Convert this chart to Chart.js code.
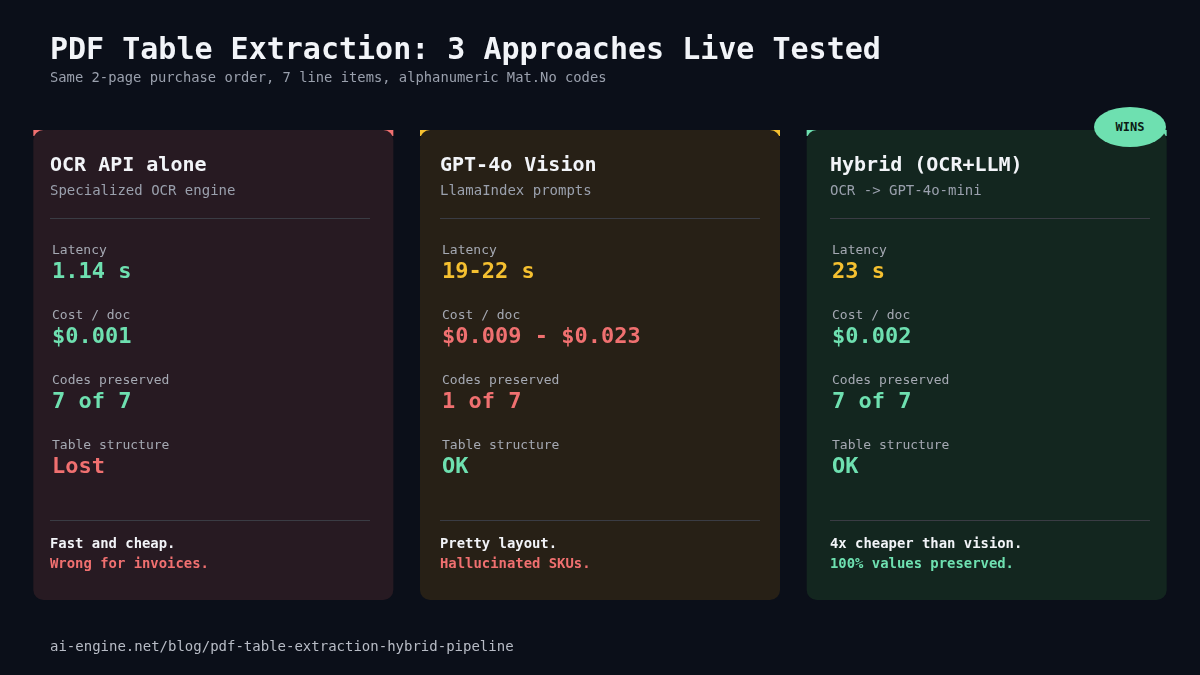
<!DOCTYPE html>
<html><head><meta charset="utf-8">
<script src="https://cdn.jsdelivr.net/npm/chart.js@4"></script>
<style>
body{margin:0;background:#0b0f19;font-family:"DejaVu Sans Mono",monospace;}
#wrap{position:relative;width:1200px;height:675px;}
canvas{position:absolute;left:0;top:0;}
.t{position:absolute;white-space:nowrap;}
</style></head><body>
<div id="wrap"><canvas id="c" width="1200" height="675"></canvas></div>
<script>
// Data
const cards = ['OCR API alone', 'GPT-4o Vision', 'Hybrid (OCR+LLM)'];
const subtitles = ['Specialized OCR engine', 'LlamaIndex prompts', 'OCR -> GPT-4o-mini'];
const metrics = ['Latency', 'Cost / doc', 'Codes preserved', 'Table structure'];
const latency = ['1.14 s', '19-22 s', '23 s'];
const cost = ['$0.001', '$0.009 - $0.023', '$0.002'];
const codes = ['7 of 7', '1 of 7', '7 of 7'];
const structure = ['Lost', 'OK', 'OK'];
const verdictA = ['Fast and cheap.', 'Pretty layout.', '4x cheaper than vision.'];
const verdictB = ['Wrong for invoices.', 'Hallucinated SKUs.', '100% values preserved.'];
const cardLeft = [30, 420, 810];
const cardSpan = [130, 600];
const accentSpan = [130, 136];

const GREEN = '#6ee0b0', RED = '#f07070', YELLOW = '#f5c030';
const accent = [RED, YELLOW, GREEN];
const cardBg = ['#271a22', '#272016', '#13261f'];
const valueColors = [
  [GREEN, YELLOW, YELLOW],
  [GREEN, RED, GREEN],
  [GREEN, RED, GREEN],
  [RED, GREEN, GREEN]
];
const values = [latency, cost, codes, structure];

const catW = 1160 / 3;
new Chart(document.getElementById('c'), {
  type: 'bar',
  data: {
    labels: cards,
    datasets: [
      { data: cards.map(() => cardSpan), backgroundColor: cardBg, borderRadius: 10,
        borderSkipped: false, grouped: false, barPercentage: 360 / catW, categoryPercentage: 1 },
      { data: cards.map(() => accentSpan), backgroundColor: accent, borderRadius: 0,
        grouped: false, barPercentage: 360 / catW, categoryPercentage: 1 }
    ]
  },
  options: {
    responsive: false, animation: false,
    layout: { padding: { left: 20, right: 20, top: 0, bottom: 0 } },
    plugins: { legend: { display: false }, tooltip: { enabled: false } },
    scales: {
      x: { display: false },
      y: { min: 0, max: 675, reverse: true, display: false }
    }
  }
});

const wrap = document.getElementById('wrap');
function txt(s, x, y, size, color, weight) {
  const d = document.createElement('div');
  d.className = 't';
  d.textContent = s;
  d.style.cssText += `left:${x}px;top:${y - size * 0.8}px;font-size:${size}px;color:${color};font-weight:${weight || 'normal'};line-height:1`;
  wrap.appendChild(d);
}
function line(x, y, w) {
  const d = document.createElement('div');
  d.style.cssText = `position:absolute;left:${x}px;top:${y}px;width:${w}px;height:1px;background:#3a3c44`;
  wrap.appendChild(d);
}

txt('PDF Table Extraction: 3 Approaches Live Tested', 50, 58, 30, '#f2f4f8', 'bold');
txt('Same 2-page purchase order, 7 line items, alphanumeric Mat.No codes', 50, 82, 13.8, '#9aa0ad');
txt('ai-engine.net/blog/pdf-table-extraction-hybrid-pipeline', 50, 650, 14, '#b8bcc6');

cards.forEach((c, i) => {
  const x0 = cardLeft[i] + 20;
  txt(c, x0, 170, 20, '#f2f4f8', 'bold');
  txt(subtitles[i], x0, 194, 14, '#9aa0ad');
  line(x0, 218, 320);
  metrics.forEach((m, j) => {
    const y = 253 + j * 65;
    txt(m, x0 + 2, y, 13, '#a5a9b3');
    txt(values[j][i], x0 + 2, y + 25, 22, valueColors[j][i], 'bold');
  });
  line(x0, 520, 320);
  txt(verdictA[i], x0, 548, 13.9, '#f2f4f8', 'bold');
  txt(verdictB[i], x0, 568, 13.9, accent[i === 1 ? 0 : i], 'bold');
});

const badge = document.createElement('div');
badge.textContent = 'WINS';
badge.style.cssText = 'position:absolute;left:1094px;top:107px;width:72px;height:40px;border-radius:50%;background:#6ee0b0;color:#0b1a14;font-weight:bold;font-size:12px;display:flex;align-items:center;justify-content:center';
wrap.appendChild(badge);
</script>
</body></html>
